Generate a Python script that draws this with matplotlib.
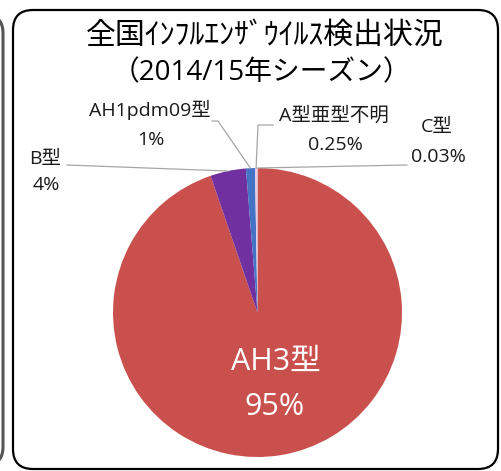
import numpy as np
import matplotlib
matplotlib.use("Agg")
import matplotlib.pyplot as plt
from matplotlib.patches import FancyBboxPatch

# Latin glyphs from Open Sans, Japanese falls through to Noto CJK
plt.rcParams['font.family'] = ['Open Sans', 'Noto Sans CJK JP', 'DejaVu Sans']

# data
labels = ["AH3型", "B型", "AH1pdm09型", "A型亜型不明", "C型"]
values = [95.0, 4.0, 1.0, 0.25, 0.03]
pct_text = ["95%", "4%", "1%", "0.25%", "0.03%"]
colors = ["#C9504D", "#7030A0", "#4472C4", "#E4C8E8", "#F2F2F2"]

W, H = 502, 471
fig = plt.figure(figsize=(W / 100, H / 100), dpi=100)
ax = fig.add_axes([0, 0, 1, 1])
ax.set_xlim(0, W)
ax.set_ylim(0, H)
ax.axis("off")


def iy(y):
    # image y (top-down) -> axes y
    return H - y


# frame of the neighbouring box (left edge) and this box
ax.add_patch(FancyBboxPatch((-300, iy(465)), 303, 450,
                            boxstyle="round,pad=0,rounding_size=18",
                            fc="none", ec="#555555", lw=2.2))
ax.add_patch(FancyBboxPatch((13, iy(469)), 485, 459,
                            boxstyle="round,pad=0,rounding_size=20",
                            fc="white", ec="black", lw=1.6))

cx, cy, r = 257.5, iy(312.5), 144.5
wedges, _ = ax.pie(values, colors=colors, startangle=90, counterclock=False,
                   center=(cx, cy), radius=r,
                   wedgeprops=dict(linewidth=0, edgecolor="none"))
ax.set_xlim(0, W)
ax.set_ylim(0, H)
ax.set_aspect("equal")

ax.text(265, iy(36), "全国ｲﾝﾌﾙｴﾝｻﾞｳｲﾙｽ検出状況", ha="center", va="center",
        fontsize=21.5, color="black")
ax.text(261, iy(73), "（2014/15年シーズン）", ha="center", va="center",
        fontsize=20, color="black")

# big slice label inside
ax.text(276, iy(362), labels[0], ha="center", va="center", fontsize=22, color="white")
ax.text(275, iy(407), pct_text[0], ha="center", va="center", fontsize=22, color="white")

# outside labels: (label centre x, label y, pct y), leader line start
lab_pos = {
    1: (45, 159, 185),
    2: (150, 110, 140),
    3: (334, 116, 145),
    4: (437, 127, 157),
}
leader_start = {
    1: [(67, 165)],
    2: [(212, 121), (218, 121)],
    3: [(273, 125), (258, 125)],
    4: [(407, 165)],
}

for i, (lx, ly, py) in lab_pos.items():
    ax.text(lx, iy(ly), labels[i], ha="center", va="center", fontsize=14, color="#1a1a1a")
    ax.text(lx + 1, iy(py), pct_text[i], ha="center", va="center", fontsize=14, color="#1a1a1a")
    w = wedges[i]
    ang = np.deg2rad((w.theta1 + w.theta2) / 2)
    ex, ey = cx + r * np.cos(ang), cy + r * np.sin(ang)
    pts = [(x, iy(y)) for x, y in leader_start[i]] + [(ex, ey)]
    xs, ys = zip(*pts)
    ax.plot(xs, ys, color="#A6A6A6", lw=0.9)

fig.savefig("out.png", dpi=100)
